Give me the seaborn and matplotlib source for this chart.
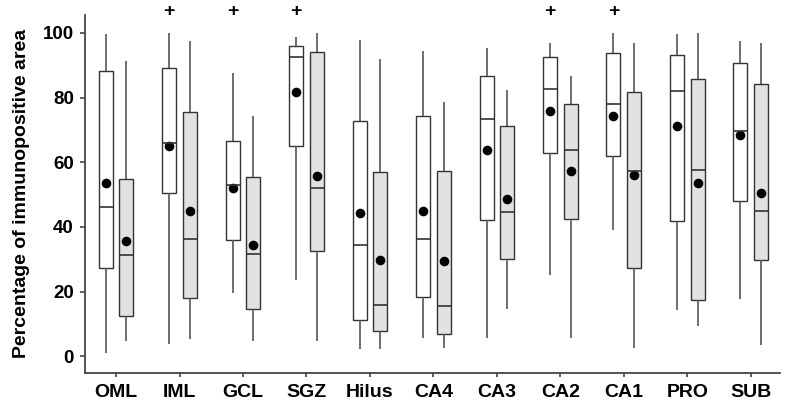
import numpy as np
import pandas as pd
import matplotlib
matplotlib.use("Agg")
import matplotlib.pyplot as plt
import seaborn as sns

categories = ["OML", "IML", "GCL", "SGZ", "Hilus", "CA4", "CA3", "CA2", "CA1", "PRO", "SUB"]
groups = ["G1", "G2"]

# white boxes (group 1)
g1_min  = [1.0, 3.7, 19.7, 23.5, 2.4, 5.8, 5.8, 25.3, 39.2, 14.4, 17.6]
g1_q1   = [27.4, 50.4, 35.9, 64.9, 11.4, 18.5, 42.0, 62.9, 62.0, 41.8, 47.9]
g1_med  = [46.2, 66.0, 52.9, 92.4, 34.3, 36.2, 73.4, 82.7, 78.1, 82.0, 69.5]
g1_q3   = [88.2, 89.2, 66.7, 95.9, 72.6, 74.3, 86.5, 92.4, 93.8, 93.1, 90.7]
g1_max  = [99.5, 99.8, 87.6, 98.8, 97.7, 94.5, 95.2, 96.7, 99.8, 99.5, 97.6]
g1_mean = [53.5, 64.9, 52.1, 81.6, 44.4, 44.8, 63.9, 75.8, 74.3, 71.1, 68.5]

# grey boxes (group 2)
g2_min  = [4.7, 5.5, 4.7, 4.7, 2.4, 2.7, 14.7, 5.8, 2.7, 9.4, 3.4]
g2_q1   = [12.6, 18.1, 14.6, 32.7, 7.9, 7.0, 30.2, 42.4, 27.4, 17.4, 29.9]
g2_med  = [31.2, 36.2, 31.5, 52.1, 16.0, 15.7, 44.5, 63.8, 57.3, 57.6, 44.8]
g2_q3   = [54.8, 75.4, 55.3, 94.1, 56.9, 57.3, 71.2, 78.1, 81.6, 85.8, 84.1]
g2_max  = [91.4, 97.6, 74.4, 99.8, 91.8, 78.6, 82.4, 86.8, 96.9, 99.8, 96.7]
g2_mean = [35.8, 44.8, 34.3, 55.6, 29.9, 29.5, 48.7, 57.3, 56.2, 53.5, 50.4]

# significance marks ("+") above the white boxes
plus_flags = [0, 1, 1, 1, 0, 0, 0, 1, 1, 0, 0]

yticks = [0, 20, 40, 60, 80, 100]
ylabel = "Percentage of immunopositive area"

# build long-form table: five values per box reproduce min/q1/median/q3/max exactly
rows = []
for grp, stats in zip(groups, [(g1_min, g1_q1, g1_med, g1_q3, g1_max),
                               (g2_min, g2_q1, g2_med, g2_q3, g2_max)]):
    for i, cat in enumerate(categories):
        for arr in stats:
            rows.append({"region": cat, "group": grp, "value": arr[i]})
box_df = pd.DataFrame(rows)

mean_rows = []
for grp, means in zip(groups, [g1_mean, g2_mean]):
    for cat, m in zip(categories, means):
        mean_rows.append({"region": cat, "group": grp, "value": m})
mean_df = pd.DataFrame(mean_rows)

sns.set_style("ticks")
plt.rcParams["font.family"] = ["Liberation Sans", "DejaVu Sans"]
plt.rcParams["font.weight"] = "bold"
plt.rcParams["text.color"] = "black"
plt.rcParams["axes.labelcolor"] = "black"
plt.rcParams["xtick.labelcolor"] = "black"
plt.rcParams["ytick.labelcolor"] = "black"

fig = plt.figure(figsize=(7.87, 4.05), dpi=100)
ax = fig.add_axes([0.108, 0.080, 0.883, 0.883])

edge = "#333333"
width = 0.652
sns.boxplot(data=box_df, x="region", y="value", hue="group", order=categories,
            hue_order=groups, palette=["white", "#e2e2e2"], saturation=1,
            width=width, gap=0.325, whis=(0, 100), showfliers=False,
            showcaps=False, linecolor=edge, linewidth=1.0,
            whiskerprops=dict(color="#555555", linewidth=1.2),
            medianprops=dict(color=edge, linewidth=1.2),
            legend=False, ax=ax)

sns.pointplot(data=mean_df, x="region", y="value", hue="group", order=categories,
              hue_order=groups, palette=["black", "black"], dodge=width / 2,
              linestyle="none", markers="o", markersize=4.9, errorbar=None,
              legend=False, ax=ax)

for i, flag in enumerate(plus_flags):
    if flag:
        ax.text(i - width / 4, 106.5, "+", ha="center", va="center",
                fontsize=14, fontweight="bold", color="black", clip_on=False)

ax.set_ylim(-5, 105.5)
ax.set_xlim(-0.49, 10.46)
ax.set_yticks(yticks)
ax.set_yticklabels([str(t) for t in yticks])
ax.set_xlabel("")
ax.set_ylabel(ylabel, fontsize=14, fontweight="bold", labelpad=9, color="black")

ax.tick_params(axis="y", labelsize=13.5, length=3.5, width=1.2, color="#444444",
               labelcolor="black", direction="out", pad=4.5)
ax.tick_params(axis="x", labelsize=14, length=3.2, width=1.2, color="#444444",
               labelcolor="black", direction="out", pad=4.8)
for lab in ax.get_xticklabels() + ax.get_yticklabels():
    lab.set_fontweight("bold")

sns.despine(ax=ax)
for s in ["left", "bottom"]:
    ax.spines[s].set_color("#444444")
    ax.spines[s].set_linewidth(1.3)

fig.savefig("out.png", dpi=100)
